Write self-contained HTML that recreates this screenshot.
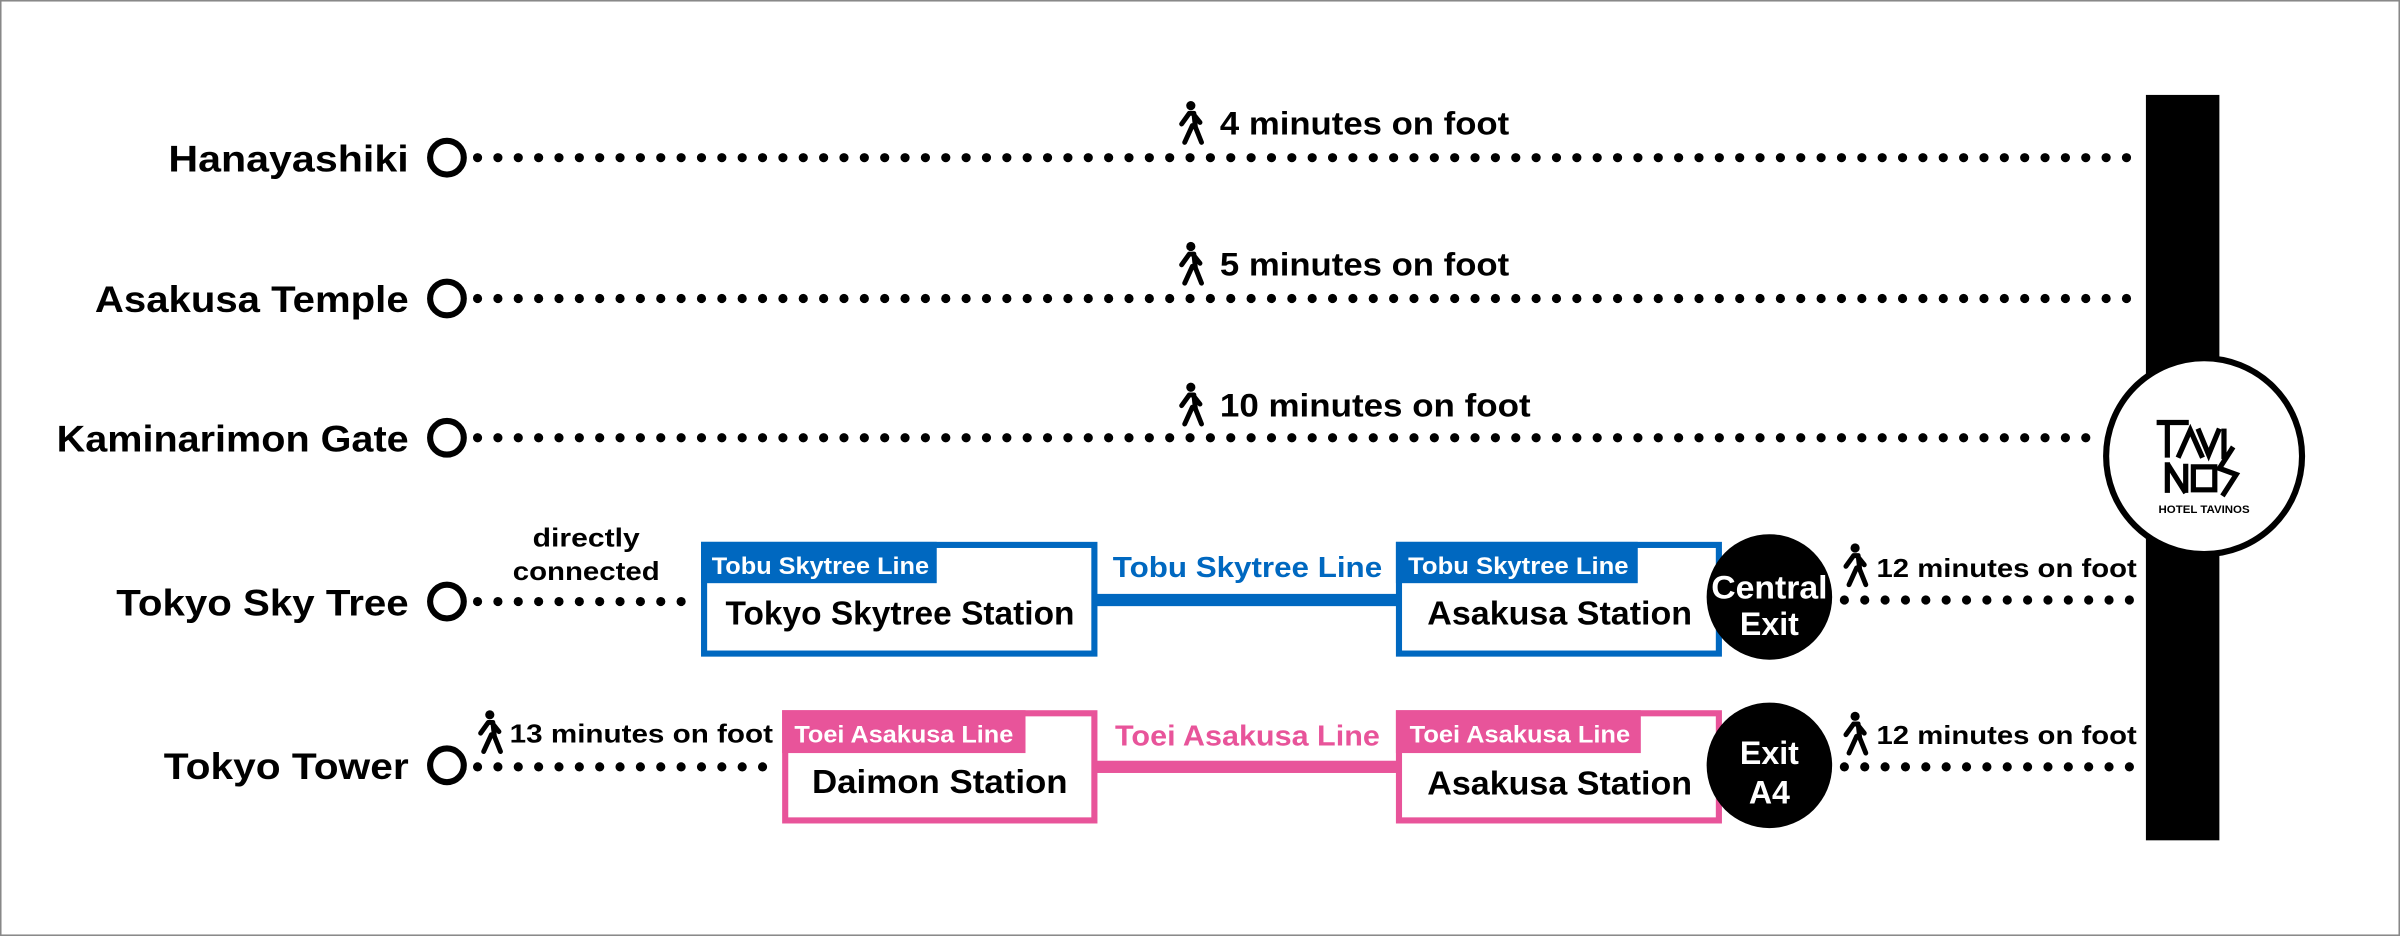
<!DOCTYPE html>
<html><head><meta charset="utf-8"><style>
html,body{margin:0;padding:0;background:#fff}
svg{display:block}
text{font-family:"Liberation Sans",sans-serif;font-weight:bold}
</style></head><body>
<svg width="2400" height="936" viewBox="0 0 1568 611.5" xmlns="http://www.w3.org/2000/svg">
<defs>
<g id="walk">
<circle cx="0" cy="-11" r="3" fill="#000"/>
<path d="M-1,-6 L2,-6 L3,3 L7,13 M1,2 L-4,13 M-1,-6 L-6,1 M2,-5 L6,0" stroke="#000" stroke-width="3.2" fill="none" stroke-linecap="round" stroke-linejoin="round"/>
</g>
</defs>
<rect x="0.5" y="0.5" width="1567" height="610.5" fill="#fff" stroke="#888" stroke-width="1"/>
<rect x="1402" y="62" width="48" height="487" fill="#000"/>
<g stroke="#000" stroke-width="6" stroke-linecap="round" stroke-dasharray="0 13.3" fill="none">
<line x1="312" y1="103" x2="1398" y2="103"/>
<line x1="312" y1="195" x2="1398" y2="195"/>
<line x1="312" y1="286" x2="1372" y2="286"/>
<line x1="312" y1="393" x2="450" y2="393"/>
<line x1="1205" y1="392" x2="1398" y2="392"/>
<line x1="312" y1="501" x2="505" y2="501"/>
<line x1="1205" y1="501" x2="1398" y2="501"/>
</g>
<g fill="#fff" stroke="#000" stroke-width="4">
<circle cx="292" cy="103" r="11"/>
<circle cx="292" cy="195" r="11"/>
<circle cx="292" cy="286" r="11"/>
<circle cx="292" cy="393" r="11"/>
<circle cx="292" cy="500" r="11"/>
</g>
<g font-size="24" text-anchor="end" fill="#000">
<text x="267" y="112" textLength="157" lengthAdjust="spacingAndGlyphs">Hanayashiki</text>
<text x="267" y="204" textLength="205" lengthAdjust="spacingAndGlyphs">Asakusa Temple</text>
<text x="267" y="295" textLength="230" lengthAdjust="spacingAndGlyphs">Kaminarimon Gate</text>
<text x="267" y="402" textLength="191" lengthAdjust="spacingAndGlyphs">Tokyo Sky Tree</text>
<text x="267" y="509" textLength="160" lengthAdjust="spacingAndGlyphs">Tokyo Tower</text>
</g>
<use href="#walk" x="778" y="80"/>
<use href="#walk" x="778" y="172"/>
<use href="#walk" x="778" y="264"/>
<use href="#walk" x="1212" y="369"/>
<use href="#walk" x="320" y="478"/>
<use href="#walk" x="1212" y="479"/>
<g font-size="21" fill="#000">
<text x="797" y="88" textLength="189" lengthAdjust="spacingAndGlyphs">4 minutes on foot</text>
<text x="797" y="180" textLength="189" lengthAdjust="spacingAndGlyphs">5 minutes on foot</text>
<text x="797" y="272" textLength="203" lengthAdjust="spacingAndGlyphs">10 minutes on foot</text>
</g>
<g font-size="17" fill="#000">
<text x="1226" y="377" textLength="170" lengthAdjust="spacingAndGlyphs">12 minutes on foot</text>
<text x="1226" y="486" textLength="170" lengthAdjust="spacingAndGlyphs">12 minutes on foot</text>
<text x="333" y="485" textLength="172" lengthAdjust="spacingAndGlyphs">13 minutes on foot</text>
<text x="383" y="357" text-anchor="middle" textLength="70" lengthAdjust="spacingAndGlyphs">directly</text>
<text x="383" y="379" text-anchor="middle" textLength="96" lengthAdjust="spacingAndGlyphs">connected</text>
</g>
<rect x="715" y="388" width="200" height="8" fill="#0068c0"/>
<text x="815" y="377" font-size="19" fill="#0068c0" text-anchor="middle" textLength="176" lengthAdjust="spacingAndGlyphs">Tobu Skytree Line</text>
<rect x="460" y="356" width="255" height="71" fill="#fff" stroke="#0068c0" stroke-width="4"/>
<rect x="458" y="354" width="154" height="27" fill="#0068c0"/>
<text x="465" y="375" font-size="16" fill="#fff" font-weight="normal" textLength="142" lengthAdjust="spacingAndGlyphs">Tobu Skytree Line</text>
<text x="588" y="408" font-size="22" fill="#000" text-anchor="middle" textLength="228" lengthAdjust="spacingAndGlyphs">Tokyo Skytree Station</text>
<rect x="914" y="356" width="209" height="71" fill="#fff" stroke="#0068c0" stroke-width="4"/>
<rect x="912" y="354" width="158" height="27" fill="#0068c0"/>
<text x="920" y="375" font-size="16" fill="#fff" font-weight="normal" textLength="144" lengthAdjust="spacingAndGlyphs">Tobu Skytree Line</text>
<text x="1019" y="408" font-size="22" fill="#000" text-anchor="middle" textLength="173" lengthAdjust="spacingAndGlyphs">Asakusa Station</text>
<rect x="715" y="497" width="200" height="8" fill="#e8549a"/>
<text x="815" y="487" font-size="19" fill="#e8549a" text-anchor="middle" textLength="173" lengthAdjust="spacingAndGlyphs">Toei Asakusa Line</text>
<rect x="513" y="466" width="202" height="70" fill="#fff" stroke="#e8549a" stroke-width="4"/>
<rect x="511" y="464" width="159" height="28" fill="#e8549a"/>
<text x="519" y="485" font-size="16" fill="#fff" font-weight="normal" textLength="143" lengthAdjust="spacingAndGlyphs">Toei Asakusa Line</text>
<text x="614" y="518" font-size="22" fill="#000" text-anchor="middle" textLength="167" lengthAdjust="spacingAndGlyphs">Daimon Station</text>
<rect x="914" y="466" width="209" height="70" fill="#fff" stroke="#e8549a" stroke-width="4"/>
<rect x="912" y="464" width="160" height="28" fill="#e8549a"/>
<text x="921" y="485" font-size="16" fill="#fff" font-weight="normal" textLength="144" lengthAdjust="spacingAndGlyphs">Toei Asakusa Line</text>
<text x="1019" y="519" font-size="22" fill="#000" text-anchor="middle" textLength="173" lengthAdjust="spacingAndGlyphs">Asakusa Station</text>
<circle cx="1156" cy="390" r="41" fill="#000"/>
<text x="1156" y="391" font-size="21" fill="#fff" text-anchor="middle" textLength="76" lengthAdjust="spacingAndGlyphs">Central</text>
<text x="1156" y="415" font-size="21" fill="#fff" text-anchor="middle">Exit</text>
<circle cx="1156" cy="500" r="41" fill="#000"/>
<text x="1156" y="499" font-size="21" fill="#fff" text-anchor="middle">Exit</text>
<text x="1156" y="525" font-size="21" fill="#fff" text-anchor="middle">A4</text>
<circle cx="1440" cy="298" r="64" fill="#fff" stroke="#000" stroke-width="4"/>
<g stroke="#000" stroke-width="3.4" fill="none" stroke-linecap="butt">
<path d="M1409,276 L1430,276 M1416,276 L1416,299"/>
<path d="M1423,299 L1431,281 L1439,299"/>
<path d="M1436,280 L1443,297 L1450,280"/>
<path d="M1453,280 L1453,300"/>
<path d="M1416,302 L1416,322 M1416,303 L1428,322 M1428,303 L1428,322"/>
<path d="M1433,305 L1447,305 L1447,320 L1433,320 Z"/>
<path d="M1459,292 L1450,306 L1461,310 L1452,324"/>
</g>
<text x="1440" y="335" font-size="7.5" font-weight="normal" fill="#000" text-anchor="middle">HOTEL TAVINOS</text>
</svg>
</body></html>
